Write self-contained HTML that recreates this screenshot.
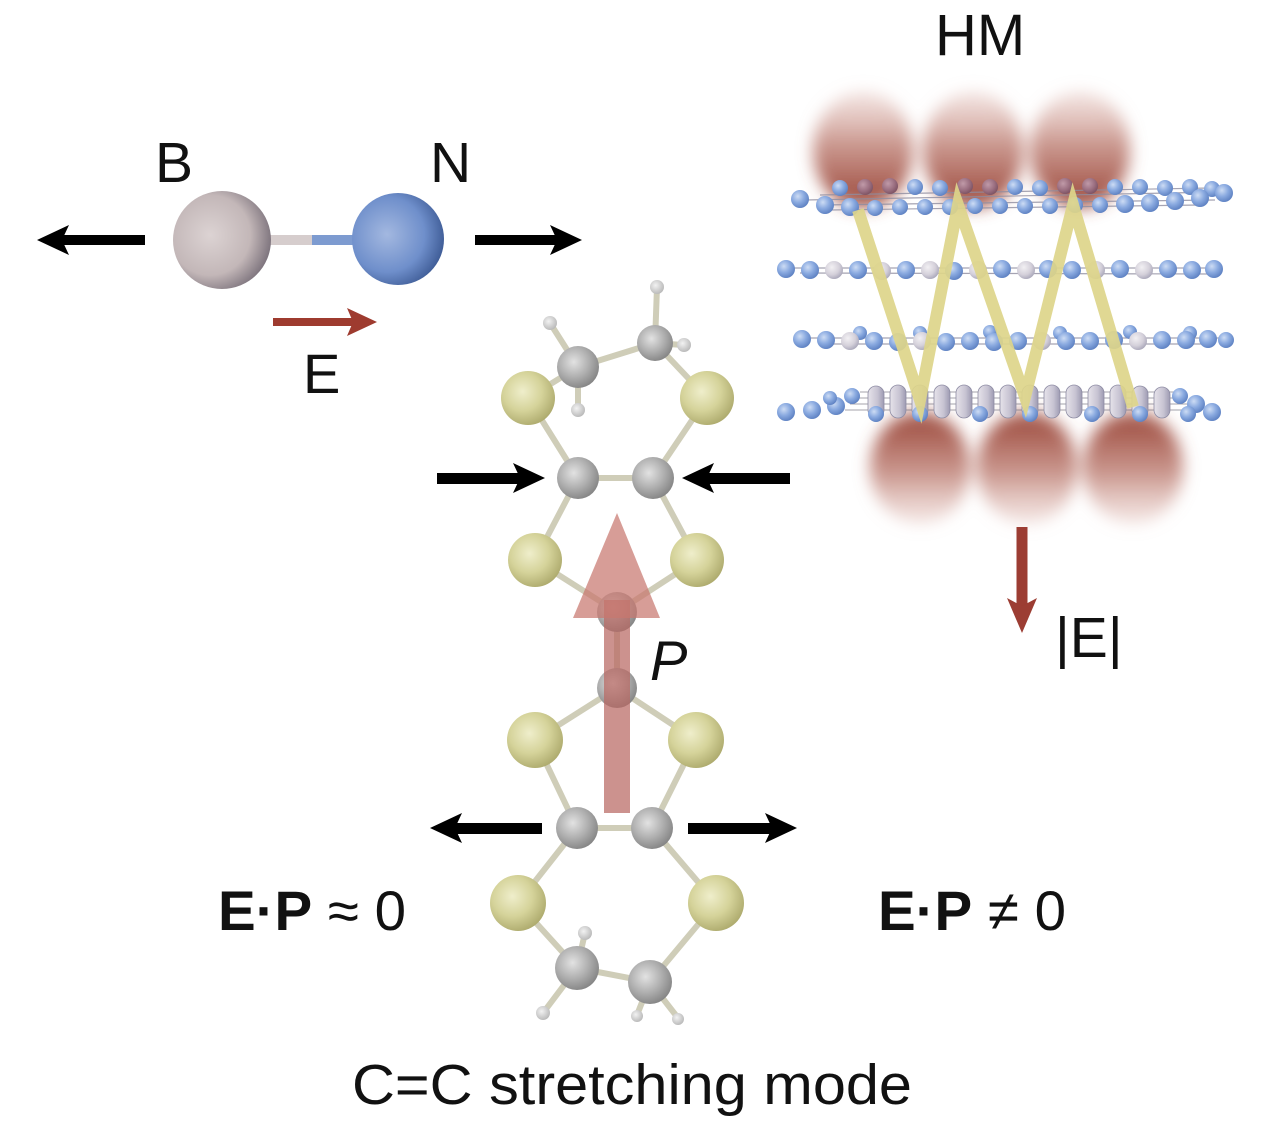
<!DOCTYPE html>
<html><head><meta charset="utf-8"><style>
html,body{margin:0;padding:0;background:#fff;}
svg{display:block;}
text{font-family:"Liberation Sans",Arial,sans-serif;fill:#111;}
</style></head><body>
<svg width="1267" height="1130" viewBox="0 0 1267 1130" xmlns="http://www.w3.org/2000/svg">
<defs>
<radialGradient id="gS" cx=".4" cy=".38" r=".65"><stop offset="0" stop-color="#efeecb"/><stop offset=".55" stop-color="#d5d39a"/><stop offset="1" stop-color="#aeab6e"/></radialGradient>
<radialGradient id="gC" cx=".4" cy=".38" r=".65"><stop offset="0" stop-color="#e2e2e2"/><stop offset=".55" stop-color="#b0b0b0"/><stop offset="1" stop-color="#858585"/></radialGradient>
<radialGradient id="gH" cx=".4" cy=".38" r=".7"><stop offset="0" stop-color="#f2f2f2"/><stop offset="1" stop-color="#b4b4b4"/></radialGradient>
<radialGradient id="gB" cx=".38" cy=".45" r=".68"><stop offset="0" stop-color="#dcd3d3"/><stop offset=".6" stop-color="#c3b7b8"/><stop offset="1" stop-color="#6e6570"/></radialGradient>
<radialGradient id="gN" cx=".38" cy=".45" r=".68"><stop offset="0" stop-color="#a3b8e0"/><stop offset=".6" stop-color="#6f8fcb"/><stop offset="1" stop-color="#35528c"/></radialGradient>
<radialGradient id="gA" cx=".38" cy=".35" r=".7"><stop offset="0" stop-color="#cddcf4"/><stop offset=".5" stop-color="#8aaae0"/><stop offset="1" stop-color="#5a7ec0"/></radialGradient>
<radialGradient id="gW" cx=".38" cy=".35" r=".7"><stop offset="0" stop-color="#f2f0f3"/><stop offset=".6" stop-color="#d4d0da"/><stop offset="1" stop-color="#a7a5b8"/></radialGradient>
<radialGradient id="gR" cx=".38" cy=".35" r=".7"><stop offset="0" stop-color="#c09aa8"/><stop offset=".6" stop-color="#9a6e80"/><stop offset="1" stop-color="#7a5060"/></radialGradient>
<linearGradient id="gCap" x1="0" y1="0" x2="1" y2="0"><stop offset="0" stop-color="#e6e3ea"/><stop offset=".6" stop-color="#c7c3d2"/><stop offset="1" stop-color="#9d9bb2"/></linearGradient>
<linearGradient id="rt" x1="0" y1="0" x2="0" y2="1"><stop offset="0" stop-color="#dcb2aa" stop-opacity=".35"/><stop offset=".45" stop-color="#b9766a" stop-opacity=".75"/><stop offset=".85" stop-color="#9f4c3f" stop-opacity=".92"/><stop offset="1" stop-color="#9a4a3d" stop-opacity=".9"/></linearGradient>
<linearGradient id="rb" x1="0" y1="1" x2="0" y2="0"><stop offset="0" stop-color="#dcb2aa" stop-opacity=".3"/><stop offset=".45" stop-color="#b9766a" stop-opacity=".75"/><stop offset=".85" stop-color="#9f4c3f" stop-opacity=".92"/><stop offset="1" stop-color="#9a4a3d" stop-opacity=".9"/></linearGradient>
<filter id="blur" x="-50%" y="-50%" width="200%" height="200%"><feGaussianBlur stdDeviation="8"/></filter>
</defs>

<!-- ============ Text ============ -->
<text x="935" y="55" font-size="58">HM</text>
<text x="155" y="182" font-size="57">B</text>
<text x="430" y="182" font-size="57">N</text>
<text x="303" y="393" font-size="56">E</text>
<text x="1055" y="657" font-size="57">|E|</text>
<text x="650" y="680" font-size="56" font-style="italic">P</text>
<text x="218" y="930" font-size="56" textLength="188" lengthAdjust="spacingAndGlyphs"><tspan font-weight="bold">E·P</tspan> ≈ 0</text>
<text x="878" y="930" font-size="56" textLength="188" lengthAdjust="spacingAndGlyphs"><tspan font-weight="bold">E·P</tspan> ≠ 0</text>
<text x="352" y="1104" font-size="57" textLength="560" lengthAdjust="spacingAndGlyphs">C=C stretching mode</text>

<!-- ============ BN molecule ============ -->
<rect x="268" y="235" width="46" height="10" fill="#d6cdcd"/>
<rect x="312" y="235" width="46" height="10" fill="#7d9bd0"/>
<circle cx="222" cy="240" r="49" fill="url(#gB)"/>
<circle cx="398" cy="239" r="46" fill="url(#gN)"/>
<rect x="61" y="235" width="84" height="10" fill="#000"/>
<polygon points="37,240 69,225 62,240 69,255" fill="#000"/>
<rect x="475" y="235" width="84" height="10" fill="#000"/>
<polygon points="582,240 550,225 557,240 550,255" fill="#000"/>
<rect x="273" y="318" width="82" height="8" fill="#9e3b2f"/>
<polygon points="377,322 347,308 353,322 347,336" fill="#9e3b2f"/>

<!-- ============ Molecule arrows ============ -->
<rect x="437" y="473" width="85" height="11" fill="#000"/>
<polygon points="545,478 513,463 520,478 513,493" fill="#000"/>
<rect x="705" y="473" width="85" height="11" fill="#000"/>
<polygon points="682,478 714,463 707,478 714,493" fill="#000"/>
<rect x="453" y="823" width="89" height="11" fill="#000"/>
<polygon points="430,828 462,813 455,828 462,843" fill="#000"/>
<rect x="688" y="823" width="86" height="11" fill="#000"/>
<polygon points="797,828 765,813 772,828 765,843" fill="#000"/>

<!-- ============ Molecule bonds ============ -->
<g stroke="#cfcdb8" stroke-width="6" stroke-linecap="round" fill="none">
<line x1="578" y1="367" x2="655" y2="343"/>
<line x1="578" y1="367" x2="550" y2="323"/>
<line x1="578" y1="367" x2="578" y2="410"/>
<line x1="655" y1="343" x2="657" y2="287"/>
<line x1="655" y1="343" x2="683" y2="345"/>
<line x1="578" y1="367" x2="528" y2="398"/>
<line x1="655" y1="343" x2="707" y2="398"/>
<line x1="528" y1="398" x2="578" y2="478"/>
<line x1="707" y1="398" x2="653" y2="478"/>
<line x1="578" y1="478" x2="653" y2="478"/>
<line x1="578" y1="478" x2="535" y2="560"/>
<line x1="653" y1="478" x2="697" y2="560"/>
<line x1="535" y1="560" x2="617" y2="612"/>
<line x1="697" y1="560" x2="617" y2="612"/>
<line x1="617" y1="612" x2="617" y2="688"/>
<line x1="617" y1="688" x2="535" y2="740"/>
<line x1="617" y1="688" x2="696" y2="740"/>
<line x1="535" y1="740" x2="577" y2="828"/>
<line x1="696" y1="740" x2="652" y2="828"/>
<line x1="577" y1="828" x2="652" y2="828"/>
<line x1="577" y1="828" x2="518" y2="903"/>
<line x1="652" y1="828" x2="716" y2="903"/>
<line x1="518" y1="903" x2="577" y2="968"/>
<line x1="716" y1="903" x2="650" y2="982"/>
<line x1="577" y1="968" x2="650" y2="982"/>
<line x1="577" y1="968" x2="585" y2="933"/>
<line x1="577" y1="968" x2="543" y2="1013"/>
<line x1="650" y1="982" x2="637" y2="1015"/>
<line x1="650" y1="982" x2="678" y2="1018"/>
</g>
<g fill="url(#gH)">
<circle cx="657" cy="287" r="7"/>
<circle cx="684" cy="345" r="7"/>
<circle cx="550" cy="323" r="7"/>
<circle cx="578" cy="410" r="7"/>
<circle cx="585" cy="933" r="7"/>
<circle cx="543" cy="1013" r="7"/>
<circle cx="637" cy="1016" r="6"/>
<circle cx="678" cy="1019" r="6"/>
</g>
<g fill="url(#gC)">
<circle cx="655" cy="343" r="18"/>
<circle cx="578" cy="367" r="21"/>
<circle cx="578" cy="478" r="21"/>
<circle cx="653" cy="478" r="21"/>
<circle cx="617" cy="612" r="20"/>
<circle cx="617" cy="688" r="20"/>
<circle cx="577" cy="828" r="21"/>
<circle cx="652" cy="828" r="21"/>
<circle cx="577" cy="968" r="22"/>
<circle cx="650" cy="982" r="22"/>
</g>
<g fill="url(#gS)">
<circle cx="528" cy="398" r="27"/>
<circle cx="707" cy="398" r="27"/>
<circle cx="535" cy="560" r="27"/>
<circle cx="697" cy="560" r="27"/>
<circle cx="535" cy="740" r="28"/>
<circle cx="696" cy="740" r="28"/>
<circle cx="518" cy="903" r="28"/>
<circle cx="716" cy="903" r="28"/>
</g>
<rect x="604" y="600" width="26" height="213" fill="#b86863" opacity=".72"/>
<polygon points="617,513 573,618 660,618" fill="#c8776f" opacity=".72"/>

<!-- ============ HM ============ -->
<g filter="url(#blur)">
<ellipse cx="863" cy="150" rx="50" ry="58" fill="url(#rt)"/>
<ellipse cx="973" cy="150" rx="50" ry="58" fill="url(#rt)"/>
<ellipse cx="1080" cy="150" rx="50" ry="58" fill="url(#rt)"/>
<ellipse cx="920" cy="468" rx="50" ry="56" fill="url(#rb)"/>
<ellipse cx="1027" cy="468" rx="50" ry="56" fill="url(#rb)"/>
<ellipse cx="1133" cy="468" rx="50" ry="56" fill="url(#rb)"/>
</g>

<!-- layer 1 -->
<g stroke="#8f8da0" stroke-width="1.2" opacity=".8">
<line x1="805" y1="200" x2="1222" y2="192"/>
<line x1="820" y1="195" x2="1210" y2="188"/>
<line x1="820" y1="205" x2="1215" y2="200"/>
<line x1="830" y1="210" x2="1200" y2="205"/>
</g>
<g fill="url(#gA)">
<circle cx="840" cy="188" r="8"/><circle cx="915" cy="187" r="8"/><circle cx="940" cy="188" r="8"/><circle cx="1015" cy="187" r="8"/><circle cx="1040" cy="188" r="8"/><circle cx="1115" cy="187" r="8"/><circle cx="1140" cy="187" r="8"/><circle cx="1165" cy="188" r="8"/><circle cx="1190" cy="187" r="8"/><circle cx="1212" cy="189" r="8"/>
</g>
<g fill="url(#gR)">
<circle cx="865" cy="187" r="8"/><circle cx="890" cy="186" r="8"/><circle cx="965" cy="186" r="8"/><circle cx="990" cy="187" r="8"/><circle cx="1065" cy="186" r="8"/><circle cx="1090" cy="186" r="8"/>
</g>
<g fill="url(#gA)">
<circle cx="800" cy="199" r="9"/><circle cx="825" cy="205" r="9"/><circle cx="850" cy="207" r="9"/><circle cx="875" cy="208" r="8"/><circle cx="900" cy="207" r="8"/><circle cx="925" cy="207" r="8"/><circle cx="950" cy="207" r="8"/><circle cx="975" cy="206" r="8"/><circle cx="1000" cy="206" r="8"/><circle cx="1025" cy="206" r="8"/><circle cx="1050" cy="206" r="8"/><circle cx="1075" cy="205" r="8"/><circle cx="1100" cy="205" r="8"/><circle cx="1125" cy="204" r="9"/><circle cx="1150" cy="203" r="9"/><circle cx="1175" cy="201" r="9"/><circle cx="1200" cy="198" r="9"/><circle cx="1224" cy="193" r="9"/>
</g>

<!-- layer 2 -->
<g stroke="#8f8da0" stroke-width="1.2" opacity=".8">
<line x1="785" y1="268" x2="1218" y2="268"/>
<line x1="800" y1="273" x2="1210" y2="274"/>
</g>
<g>
<circle cx="786" cy="269" r="9" fill="url(#gA)"/><circle cx="810" cy="270" r="9" fill="url(#gA)"/><circle cx="834" cy="270" r="9" fill="url(#gW)"/><circle cx="858" cy="270" r="9" fill="url(#gA)"/><circle cx="882" cy="271" r="9" fill="url(#gW)"/><circle cx="906" cy="270" r="9" fill="url(#gA)"/><circle cx="930" cy="270" r="9" fill="url(#gW)"/><circle cx="954" cy="271" r="9" fill="url(#gA)"/><circle cx="978" cy="270" r="9" fill="url(#gW)"/><circle cx="1002" cy="269" r="9" fill="url(#gA)"/><circle cx="1026" cy="270" r="9" fill="url(#gW)"/><circle cx="1048" cy="269" r="9" fill="url(#gA)"/><circle cx="1072" cy="270" r="9" fill="url(#gA)"/><circle cx="1096" cy="270" r="9" fill="url(#gW)"/><circle cx="1120" cy="269" r="9" fill="url(#gA)"/><circle cx="1144" cy="270" r="9" fill="url(#gW)"/><circle cx="1168" cy="269" r="9" fill="url(#gA)"/><circle cx="1192" cy="270" r="9" fill="url(#gA)"/><circle cx="1214" cy="269" r="9" fill="url(#gA)"/>
</g>

<!-- layer 3 -->
<g stroke="#8f8da0" stroke-width="1.2" opacity=".8">
<line x1="800" y1="338" x2="1225" y2="338"/>
<line x1="820" y1="344" x2="1215" y2="344"/>
</g>
<g>
<circle cx="860" cy="333" r="7" fill="url(#gA)"/><circle cx="920" cy="333" r="7" fill="url(#gA)"/><circle cx="990" cy="332" r="7" fill="url(#gA)"/><circle cx="1060" cy="333" r="7" fill="url(#gA)"/><circle cx="1130" cy="332" r="7" fill="url(#gA)"/><circle cx="1190" cy="333" r="7" fill="url(#gA)"/>
<circle cx="802" cy="339" r="9" fill="url(#gA)"/><circle cx="826" cy="340" r="9" fill="url(#gA)"/><circle cx="850" cy="341" r="9" fill="url(#gW)"/><circle cx="874" cy="341" r="9" fill="url(#gA)"/><circle cx="898" cy="342" r="9" fill="url(#gA)"/><circle cx="922" cy="341" r="9" fill="url(#gW)"/><circle cx="946" cy="342" r="9" fill="url(#gA)"/><circle cx="970" cy="341" r="9" fill="url(#gA)"/><circle cx="994" cy="342" r="9" fill="url(#gA)"/><circle cx="1018" cy="341" r="9" fill="url(#gA)"/><circle cx="1042" cy="341" r="9" fill="url(#gW)"/><circle cx="1066" cy="341" r="9" fill="url(#gA)"/><circle cx="1090" cy="341" r="9" fill="url(#gA)"/><circle cx="1114" cy="340" r="9" fill="url(#gA)"/><circle cx="1138" cy="341" r="9" fill="url(#gW)"/><circle cx="1162" cy="340" r="9" fill="url(#gA)"/><circle cx="1186" cy="340" r="9" fill="url(#gA)"/><circle cx="1208" cy="339" r="9" fill="url(#gA)"/><circle cx="1226" cy="340" r="8" fill="url(#gA)"/>
</g>

<!-- layer 4 -->
<g stroke="#5a5868" stroke-width="1" opacity=".55">
<line x1="860" y1="392" x2="1180" y2="392"/>
<line x1="855" y1="398" x2="1185" y2="398"/>
<line x1="850" y1="404" x2="1190" y2="404"/>
<line x1="845" y1="410" x2="1195" y2="410"/>
</g>
<g fill="url(#gCap)" stroke="#8e8ca4" stroke-width=".8">
<rect x="868" y="386" width="16" height="32" rx="8"/><rect x="890" y="385" width="16" height="33" rx="8"/><rect x="912" y="385" width="16" height="33" rx="8"/><rect x="934" y="385" width="16" height="33" rx="8"/><rect x="956" y="385" width="16" height="33" rx="8"/><rect x="978" y="385" width="16" height="33" rx="8"/><rect x="1000" y="385" width="16" height="33" rx="8"/><rect x="1022" y="385" width="16" height="33" rx="8"/><rect x="1044" y="385" width="16" height="33" rx="8"/><rect x="1066" y="385" width="16" height="33" rx="8"/><rect x="1088" y="385" width="16" height="33" rx="8"/><rect x="1110" y="385" width="16" height="33" rx="8"/><rect x="1132" y="386" width="16" height="32" rx="8"/><rect x="1154" y="387" width="16" height="31" rx="8"/>
</g>
<g fill="url(#gA)">
<circle cx="786" cy="412" r="9"/><circle cx="812" cy="410" r="9"/><circle cx="836" cy="406" r="9"/><circle cx="852" cy="396" r="8"/><circle cx="830" cy="398" r="7"/>
<circle cx="876" cy="414" r="8"/><circle cx="920" cy="414" r="8"/><circle cx="980" cy="414" r="8"/><circle cx="1030" cy="414" r="8"/><circle cx="1092" cy="414" r="8"/><circle cx="1140" cy="414" r="8"/>
<circle cx="1180" cy="396" r="8"/><circle cx="1196" cy="404" r="9"/><circle cx="1212" cy="412" r="9"/><circle cx="1188" cy="414" r="8"/>
</g>

<polyline points="858,210 920,400 958,205 1025,397 1073,205 1133,407" fill="none" stroke="#ddd58a" stroke-width="12" stroke-linejoin="miter" opacity=".92"/>

<rect x="1016.5" y="527" width="11" height="80" fill="#9c3d33"/>
<polygon points="1022,633 1007,598 1022,606 1037,598" fill="#9c3d33"/>
</svg>
</body></html>
